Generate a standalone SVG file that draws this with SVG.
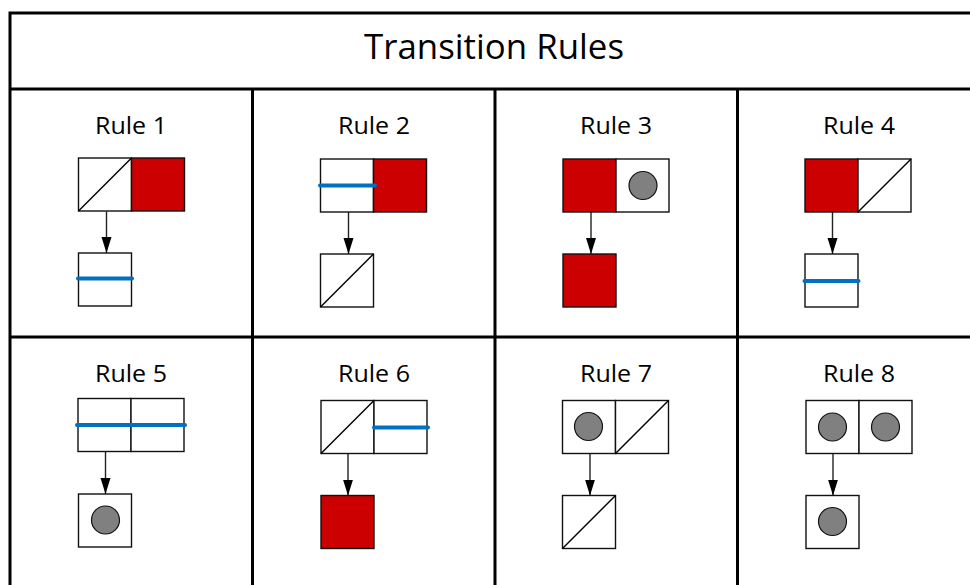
<svg xmlns="http://www.w3.org/2000/svg" width="970" height="585" viewBox="0 0 970 585">
<style>
.grid{fill:none;stroke:#000;stroke-width:3}
.sq{fill:#fff;stroke:#111;stroke-width:1.4}
.red{fill:#CC0000;stroke:#111;stroke-width:1.4}
.diag{stroke:#000;stroke-width:1.4}
.blue{stroke:#0070C0;stroke-width:4;stroke-linecap:round}
.dot{fill:#808080;stroke:#111;stroke-width:1.2}
.conn{stroke:#222;stroke-width:1.4;fill:none}
.title{font-family:"Open Sans","Liberation Sans",sans-serif;font-size:35px;fill:#000;text-anchor:middle}
.lbl{font-family:"Open Sans","Liberation Sans",sans-serif;font-size:23px;fill:#000;text-anchor:middle}
</style>
<defs>
<marker id="ah" markerUnits="userSpaceOnUse" markerWidth="17" markerHeight="11" refX="16" refY="5" orient="auto">
<path d="M0,0 L16,5 L0,10 Z" fill="#000"/>
</marker>
</defs>
<rect width="970" height="585" fill="#fff"/>
<g id="table">
<path class="grid" d="M10,600 V13 H980 M10,89 H980 M10,337 H980 M252.5,89 V600 M495,89 V600 M737.5,89 V600"/>
<text class="title" x="494" y="59" textLength="260" lengthAdjust="spacingAndGlyphs">Transition Rules</text>
</g>
<g id="connectors">
<line class="conn" x1="106.5" y1="211.5" x2="106.5" y2="253" marker-end="url(#ah)"/>
<line class="conn" x1="348.5" y1="212" x2="348.5" y2="254" marker-end="url(#ah)"/>
<line class="conn" x1="591" y1="212" x2="591" y2="254" marker-end="url(#ah)"/>
<line class="conn" x1="832.5" y1="212" x2="832.5" y2="254" marker-end="url(#ah)"/>
<line class="conn" x1="105.5" y1="451.5" x2="105.5" y2="494" marker-end="url(#ah)"/>
<line class="conn" x1="348" y1="453.5" x2="348" y2="495.5" marker-end="url(#ah)"/>
<line class="conn" x1="590" y1="453.5" x2="590" y2="495.5" marker-end="url(#ah)"/>
<line class="conn" x1="833" y1="453.5" x2="833" y2="495.5" marker-end="url(#ah)"/>
</g>
<g id="rule1">
<text class="lbl" x="131" y="134" textLength="72" lengthAdjust="spacingAndGlyphs">Rule 1</text>
<rect class="sq" x="78.5" y="158" width="53" height="53"/>
<line class="diag" x1="78.5" y1="211" x2="131.5" y2="158"/>
<rect class="red" x="131.5" y="158" width="53" height="53"/>
<rect class="sq" x="78.5" y="253" width="53" height="53"/>
<line class="blue" x1="78" y1="278.5" x2="132" y2="278.5"/>
</g>
<g id="rule2">
<text class="lbl" x="374" y="134" textLength="72" lengthAdjust="spacingAndGlyphs">Rule 2</text>
<rect class="sq" x="320.5" y="159" width="53" height="53"/>
<rect class="red" x="373.5" y="159" width="53" height="53"/>
<line class="blue" x1="320" y1="185.5" x2="375" y2="185.5"/>
<rect class="sq" x="320.5" y="254" width="53" height="53"/>
<line class="diag" x1="320.5" y1="307" x2="373.5" y2="254"/>
</g>
<g id="rule3">
<text class="lbl" x="616" y="134" textLength="72" lengthAdjust="spacingAndGlyphs">Rule 3</text>
<rect class="red" x="563" y="159" width="53" height="53"/>
<rect class="sq" x="616" y="159" width="53" height="53"/>
<circle class="dot" cx="643" cy="185.5" r="14"/>
<rect class="red" x="563" y="254" width="53" height="53"/>
</g>
<g id="rule4">
<text class="lbl" x="859" y="134" textLength="72" lengthAdjust="spacingAndGlyphs">Rule 4</text>
<rect class="red" x="805" y="159" width="53" height="53"/>
<rect class="sq" x="858" y="159" width="53" height="53"/>
<line class="diag" x1="858" y1="212" x2="911" y2="159"/>
<rect class="sq" x="805" y="254" width="53" height="53"/>
<line class="blue" x1="804.5" y1="281" x2="858.5" y2="281"/>
</g>
<g id="rule5">
<text class="lbl" x="131" y="382" textLength="72" lengthAdjust="spacingAndGlyphs">Rule 5</text>
<rect class="sq" x="78" y="398.5" width="53" height="53"/>
<rect class="sq" x="131" y="398.5" width="53" height="53"/>
<line class="blue" x1="77" y1="425" x2="185" y2="425"/>
<rect class="sq" x="78.5" y="494" width="53" height="53"/>
<circle class="dot" cx="105.5" cy="520" r="14"/>
</g>
<g id="rule6">
<text class="lbl" x="374" y="382" textLength="72" lengthAdjust="spacingAndGlyphs">Rule 6</text>
<rect class="sq" x="321" y="400.5" width="53" height="53"/>
<line class="diag" x1="321" y1="453.5" x2="374" y2="400.5"/>
<rect class="sq" x="374" y="400.5" width="53" height="53"/>
<line class="blue" x1="374" y1="427.5" x2="428" y2="427.5"/>
<rect class="red" x="321" y="495.5" width="53" height="53"/>
</g>
<g id="rule7">
<text class="lbl" x="616" y="382" textLength="72" lengthAdjust="spacingAndGlyphs">Rule 7</text>
<rect class="sq" x="562.5" y="400.5" width="53" height="53"/>
<circle class="dot" cx="588.5" cy="426.5" r="14"/>
<rect class="sq" x="615.5" y="400.5" width="53" height="53"/>
<line class="diag" x1="615.5" y1="453.5" x2="668.5" y2="400.5"/>
<rect class="sq" x="562.5" y="495.5" width="53" height="53"/>
<line class="diag" x1="562.5" y1="548.5" x2="615.5" y2="495.5"/>
</g>
<g id="rule8">
<text class="lbl" x="859" y="382" textLength="72" lengthAdjust="spacingAndGlyphs">Rule 8</text>
<rect class="sq" x="806" y="400.5" width="53" height="53"/>
<circle class="dot" cx="832.5" cy="427" r="14"/>
<rect class="sq" x="859" y="400.5" width="53" height="53"/>
<circle class="dot" cx="885.5" cy="427" r="14"/>
<rect class="sq" x="806" y="495.5" width="53" height="53"/>
<circle class="dot" cx="832.5" cy="521.5" r="14"/>
</g>
</svg>
